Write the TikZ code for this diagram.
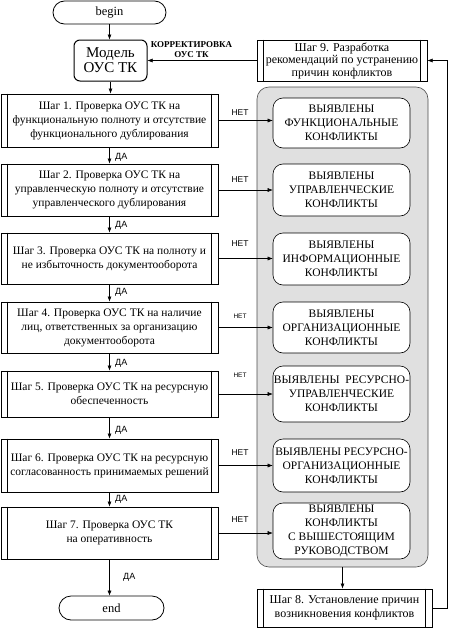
\documentclass[tikz,border=0pt]{standalone}
\usepackage{fontspec}
\setmainfont{Liberation Serif}
\newfontfamily\lsans{Liberation Sans}
\usetikzlibrary{arrows.meta,shapes.misc}
\begin{document}
\begin{tikzpicture}[x=1pt,y=-1pt,
  arr/.style={-{Latex[length=5pt,width=4pt]}, line width=0.5pt},
  proc/.style={draw, line width=1pt, inner sep=0pt, align=center, minimum width=217pt, font=\fontsize{11.5}{14}\selectfont},
  conf/.style={draw, line width=0.6pt, rounded corners=10pt, fill=white, align=center, inner sep=0pt, minimum width=137pt, font=\fontsize{11.5}{14}\selectfont},
  term/.style={draw, line width=0.8pt, rounded rectangle, inner sep=0pt, font=\fontsize{12.5}{14}\selectfont},
  bar/.style={line width=1pt},
  yes/.style={font=\lsans\fontsize{9}{10}\selectfont, anchor=west, inner sep=0pt},
  no/.style={font=\lsans\fontsize{8.5}{9}\selectfont, inner sep=0pt},
  nosmall/.style={font=\lsans\fontsize{6.5}{7}\selectfont, inner sep=0pt},
  panel/.style={draw=black!70, line width=0.6pt, rounded corners=12pt, fill=black!12}
]
\useasboundingbox (0,0) rectangle (451,629);

\node[term, minimum width=113pt, minimum height=23pt] (begin) at (109.5,12.5) {begin};
\node[draw, line width=1pt, rounded corners=6pt, minimum width=73pt, minimum height=41pt, inner sep=0pt, align=center, font=\fontsize{15}{15}\selectfont] (model) at (110.5,60.5) {Модель\\ОУС ТК};

\node[proc, minimum height=53pt] (s1) at (109.5,120.5) {Шаг 1. Проверка ОУС ТК на\\функциональную полноту и отсутствие\\функционального дублирования};
\node[proc, minimum height=52pt] (s2) at (109.5,190) {Шаг 2. Проверка ОУС ТК на\\управленческую полноту и отсутствие\\управленческого дублирования};
\node[proc, minimum height=51pt] (s3) at (109.5,258.5) {Шаг 3. Проверка ОУС ТК на полноту и\\не избыточность документооборота};
\node[proc, minimum height=51pt] (s4) at (109.5,327.5) {Шаг 4. Проверка ОУС ТК на наличие\\лиц, ответственных за организацию\\документооборота};
\node[proc, minimum height=46pt] (s5) at (109.5,394) {Шаг 5. Проверка ОУС ТК на ресурсную\\обеспеченность};
\node[proc, minimum height=53pt] (s6) at (109.5,465.5) {Шаг 6. Проверка ОУС ТК на ресурсную\\согласованность принимаемых решений};
\node[proc, minimum height=52pt] (s7) at (109.5,533) {Шаг 7. Проверка ОУС ТК\\на оперативность};
\node[term, minimum width=105pt, minimum height=24pt] (end) at (111.5,608) {end};

\node[panel, minimum width=171pt, minimum height=480pt] (panel) at (342.5,327) {};

\node[conf, minimum height=50pt] (c1) at (341.5,123) {ВЫЯВЛЕНЫ\\ФУНКЦИОНАЛЬНЫЕ\\КОНФЛИКТЫ};
\node[conf, minimum height=52pt] (c2) at (341.5,190) {ВЫЯВЛЕНЫ\\УПРАВЛЕНЧЕСКИЕ\\КОНФЛИКТЫ};
\node[conf, minimum height=52pt] (c3) at (341.5,259) {ВЫЯВЛЕНЫ\\ИНФОРМАЦИОННЫЕ\\КОНФЛИКТЫ};
\node[conf, minimum height=51pt] (c4) at (341.5,327.5) {ВЫЯВЛЕНЫ\\ОРГАНИЗАЦИОННЫЕ\\КОНФЛИКТЫ};
\node[conf, minimum height=56pt] (c5) at (341.5,394) {ВЫЯВЛЕНЫ\ \ РЕСУРСНО-\\УПРАВЛЕНЧЕСКИЕ\\КОНФЛИКТЫ};
\node[conf, minimum height=53pt] (c6) at (341.5,465.5) {ВЫЯВЛЕНЫ РЕСУРСНО-\\ОРГАНИЗАЦИОННЫЕ\\КОНФЛИКТЫ};
\node[conf, minimum height=56pt] (c7) at (341.5,531) {ВЫЯВЛЕНЫ\\КОНФЛИКТЫ\\С ВЫШЕСТОЯЩИМ\\РУКОВОДСТВОМ};

\node[proc, minimum width=170pt, minimum height=41pt, font=\fontsize{12}{12.5}\selectfont] (s9) at (342,60.5) {Шаг 9. Разработка\\рекомендаций по устранению\\причин конфликтов};
\node[proc, minimum width=175pt, minimum height=38pt, font=\fontsize{12}{13.5}\selectfont] (s8) at (344.5,608) {Шаг 8. Установление причин\\возникновения конфликтов};

% inner bars
\foreach \n in {s1,s2,s3,s4,s5,s6,s7,s8,s9}{
  \draw[bar] ([xshift=6.5pt]\n.north west) -- ([xshift=6.5pt]\n.south west);
  \draw[bar] ([xshift=-7pt]\n.north east) -- ([xshift=-7pt]\n.south east);
}

% vertical flow
\draw[arr] (begin.south) -- (begin.south |- model.north);
\draw[arr] (model.south) -- (model.south |- s1.north);
\draw[arr] (s1.south) -- (s2.north);
\draw[arr] (s2.south) -- (s3.north);
\draw[arr] (s3.south) -- (s4.north);
\draw[arr] (s4.south) -- (s5.north);
\draw[arr] (s5.south) -- (s6.north);
\draw[arr] (s6.south) -- (s7.north);
\draw[arr] (s7.south) -- (s7.south |- end.north);

\node[yes] (y1) at (115,157) {ДА};
\node[yes] (y2) at (115,225) {ДА};
\node[yes] (y3) at (115,292) {ДА};
\node[yes] (y4) at (115,363) {ДА};
\node[yes] (y5) at (115,430) {ДА};
\node[yes] (y6) at (115,499) {ДА};
\node[yes] (y7) at (123,577) {ДА};

% NO arrows
\draw[arr] (s1.east) -- (s1.east -| c1.west);
\draw[arr] (s2.east) -- (s2.east -| c2.west);
\draw[arr] (s3.east) -- (s3.east -| c3.west);
\draw[arr] (s4.east) -- (s4.east -| c4.west);
\draw[arr] (s5.east) -- (s5.east -| c5.west);
\draw[arr] (s6.east) -- (s6.east -| c6.west);
\draw[arr] (s7.east) -- (s7.east -| c7.west);

\node[no] (n1) at (240,113) {НЕТ};
\node[no] (n2) at (240,180) {НЕТ};
\node[no] (n3) at (240,244) {НЕТ};
\node[nosmall] (n4) at (240,316) {НЕТ};
\node[nosmall] (n5) at (240,375) {НЕТ};
\node[no] (n6) at (240,453) {НЕТ};
\node[no] (n7) at (240,520) {НЕТ};

% feedback
\draw[arr] (panel.south) -- (panel.south |- s8.north);
\coordinate (rc) at (447,608);
\draw[arr] (s8.east) -- (rc) |- (s9.east);
\draw[arr] (s9.west) -- (model.east);
\node[font=\bfseries\fontsize{9}{10}\selectfont, inner sep=0pt, align=center] (korr) at (191.5,49.5) {КОРРЕКТИРОВКА\\[0pt]ОУС ТК};
\end{tikzpicture}
\end{document}
